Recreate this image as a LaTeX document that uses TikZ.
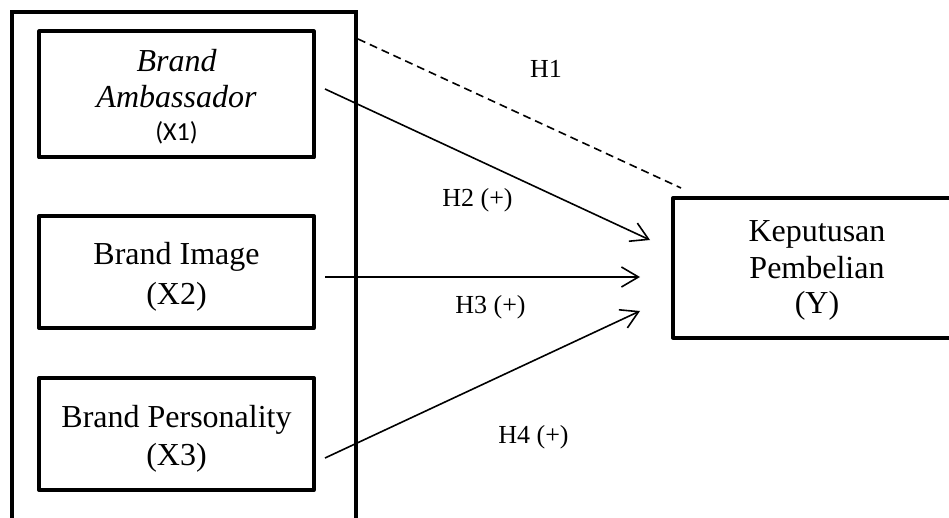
\documentclass[tikz,border=0pt]{standalone}
\usepackage{fontspec}
\setmainfont{Liberation Serif}
\newfontfamily\carlito{Carlito}
\usetikzlibrary{arrows.meta}
\begin{document}
\begin{tikzpicture}[x=1pt,y=-1pt,
  boxst/.style={draw, line width=4pt, line join=round, inner sep=0pt, rectangle},
  big/.style={font=\fontsize{32}{38}\selectfont, inner sep=0pt, anchor=base},
  lbl/.style={font=\fontsize{26}{30}\selectfont, inner sep=0pt, anchor=base},
  arr/.style={line width=1.6pt, -{Straight Barb[length=17pt,width=20pt,line width=1.6pt]}},
  dsh/.style={line width=1.6pt, dash pattern=on 8pt off 5pt},
]
\useasboundingbox (0,0) rectangle (949,518);
% outer container (open at bottom, runs past the page)
\node[boxst, line join=miter, minimum width=344.6pt, minimum height=588pt] (outer) at (184,306) {};
% left boxes
\node[boxst, minimum width=274.5pt, minimum height=126pt] (b1) at (176.5,94.5) {};
\node[boxst, minimum width=274.5pt, minimum height=112pt] (b2) at (176.5,272) {};
\node[boxst, minimum width=274.5pt, minimum height=112pt] (b3) at (176.5,434) {};
% right box (runs past the right edge)
\node[boxst, minimum width=288pt, minimum height=139.5pt] (y) at (817,267.8) {};
% texts
\node[big] (b1a) at (176.5,72) {\itshape Brand};
\node[big] (b1b) at (176.5,108) {\itshape Ambassador};
\node[font=\carlito\fontsize{26}{30}\selectfont, inner sep=0pt, anchor=base] (b1c) at (176.5,141) {(X1)};
\node[big] (b2a) at (176.5,265) {Brand Image};
\node[big] (b2b) at (176.5,304) {(X2)};
\node[big] (b3a) at (176.5,427) {Brand Personality};
\node[big] (b3b) at (176.5,465) {(X3)};
\node[big] (ya) at (817,242) {Keputusan};
\node[big] (yb) at (817,279) {Pembelian};
\node[big] (yc) at (817,313) {(Y)};
% connector end points
\coordinate (d1) at (358,39);
\coordinate (d2) at (681,188);
\coordinate (s2) at (325,89);
\coordinate (e2) at (650,240);
\coordinate (s3) at (325,277);
\coordinate (e3) at (640,277);
\coordinate (s4) at (325,458);
\coordinate (e4) at (640,311);
\draw[dsh] (d1) -- (d2);
\draw[arr] (s2) -- (e2);
\draw[arr] (s3) -- (e3);
\draw[arr] (s4) -- (e4);
% labels
\node[lbl] (h1) at (546,78) {H1};
\node[lbl] (h2) at (477.5,207) {H2 (+)};
\node[lbl] (h3) at (490.5,313) {H3 (+)};
\node[lbl] (h4) at (533.5,443) {H4 (+)};
\end{tikzpicture}
\end{document}
